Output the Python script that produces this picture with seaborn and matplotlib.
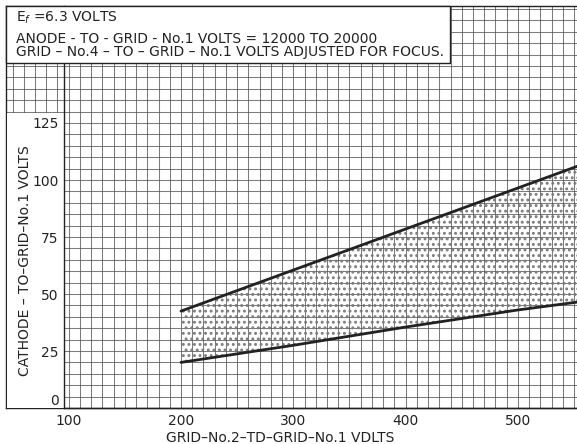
import matplotlib
matplotlib.use('Agg')
import matplotlib.pyplot as plt
import seaborn as sns
import numpy as np
import pandas as pd
from matplotlib.patches import Rectangle

# ---- data ----
grid2_volts = [200, 300, 400, 500, 600]
upper_volts = [42.5, 60.5, 78.5, 96.5, 114.5]
lower_volts = [20.0, 27.5, 35.5, 43.0, 49.5]
x_ticks = [100, 200, 300, 400, 500]
y_ticks = [0, 25, 50, 75, 100, 125]
title_lines = ["E$_f$ =6.3 VOLTS",
               "ANODE - TO - GRID - No.1 VOLTS = 12000 TO 20000",
               "GRID \u2013 No.4 \u2013 TO \u2013 GRID \u2013 No.1 VOLTS ADJUSTED FOR FOCUS."]
x_label = "GRID\u2013No.2\u2013TD\u2013GRID\u2013No.1 VDLTS"
y_label = "CATHODE \u2013 TO\u2013GRID\u2013No.1 VOLTS"

W, H = 577, 444
sns.set_theme(style='white')
plt.rcParams['font.family'] = ['DejaVu Sans']
plt.rcParams['hatch.linewidth'] = 1.3
INK = '#222222'

fig = plt.figure(figsize=(W / 100, H / 100), dpi=100)


def fx(px):
    return px / W


def fy(py):
    return 1 - py / H


def px_to_x(px):
    return 200 + (px - 181) / 1.123


XL, XM, XR = px_to_x(6), px_to_x(64), px_to_x(577)
YB, YT = 0, (408 - 6) / 2.28

# graph-paper background
bg = fig.add_axes([fx(6), fy(408), fx(577) - fx(6), fy(6) - fy(408)], zorder=0)
bg.set_xlim(XL, XR)
bg.set_ylim(YB, YT)
bg.set_xticks(np.arange(50, 560, 10))
bg.set_yticks(np.arange(0, 180, 5))
bg.grid(True, color='#505050', lw=0.75, alpha=0.75)
bg.tick_params(length=0, labelleft=False, labelbottom=False)
bg.spines['right'].set_visible(False)
for s in ['left', 'top', 'bottom']:
    bg.spines[s].set_color(INK)
    bg.spines[s].set_linewidth(1.0)

# white label panel on the left
panel = Rectangle((fx(6.5), fy(407.5)), fx(64) - fx(6.5), fy(113) - fy(407.5),
                  transform=fig.transFigure, facecolor='white', edgecolor='none',
                  zorder=0.5)
fig.add_artist(panel)

# main axes
ax = fig.add_axes([fx(64), fy(408), fx(577) - fx(64), fy(6) - fy(408)], zorder=1)
ax.set_facecolor('none')

df = pd.DataFrame({
    'g2': grid2_volts * 2,
    'volts': upper_volts + lower_volts,
    'curve': ['upper'] * len(grid2_volts) + ['lower'] * len(grid2_volts),
})
sns.lineplot(data=df, x='g2', y='volts', hue='curve',
             palette={'upper': INK, 'lower': INK}, lw=2.0, legend=False, ax=ax)
ax.fill_between(grid2_volts, lower_volts, upper_volts, facecolor='none',
                edgecolor='#7a7a7a', hatch='...', lw=0)

ax.set_xlim(XM, XR)
ax.set_ylim(YB, YT)
ax.set_xticks(x_ticks)
ax.set_yticks(y_ticks)
ax.tick_params(axis='both', direction='out', length=3, width=1, color=INK,
               labelcolor=INK, labelsize=10)
ax.tick_params(axis='x', pad=1.5)
ax.tick_params(axis='y', pad=1)
for s in ['top', 'right']:
    ax.spines[s].set_visible(False)
for s in ['left', 'bottom']:
    ax.spines[s].set_color(INK)
    ax.spines[s].set_linewidth(1.0)
ax.get_yticklabels()[0].set_va('bottom')

ax.set_xlabel(x_label, fontsize=10, color=INK, va='center')
ax.set_ylabel(y_label, fontsize=10, color=INK, va='center')
ax.xaxis.set_label_coords((280 - 64) / 513, (408 - 438) / 402)
ax.yaxis.set_label_coords((25 - 64) / 513, (408 - 261) / 402)

# text box at top left
box = Rectangle((fx(6), fy(63)), fx(450) - fx(6), fy(6) - fy(63),
                transform=fig.transFigure, facecolor='white', edgecolor=INK,
                lw=1.0, zorder=2)
fig.add_artist(box)
for txt, py in zip(title_lines, [18, 39, 52]):
    fig.text(fx(16), fy(py), txt, fontsize=10, color=INK, ha='left',
             va='center', zorder=3)

fig.savefig('out.png', dpi=100)
